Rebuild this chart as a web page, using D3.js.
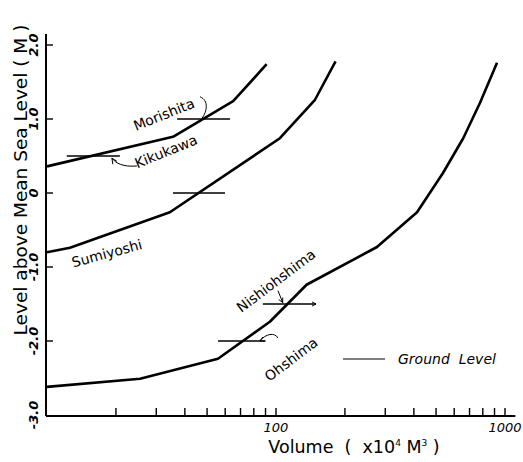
<!DOCTYPE html>
<html><head><meta charset="utf-8">
<script src="https://cdn.jsdelivr.net/npm/d3@7"></script>
<style>body{margin:0;background:#fff}svg{display:block}text{font-family:"DejaVu Sans",sans-serif;fill:#000;white-space:pre}</style>
</head><body><svg id="c" width="523" height="462"></svg>
<script>
// Data
const upperVol = [10, 35.5, 65, 91];             // Morishita / Kikukawa
const upperLevel = [0.36, 0.76, 1.24, 1.74];
const sumiVol = [10, 12.6, 34.4, 104, 148, 182];
const sumiLevel = [-0.80, -0.74, -0.26, 0.74, 1.26, 1.78];
const lowerVol = [10, 25.5, 55.8, 94, 136, 276, 413, 536, 657, 778, 923]; // Nishiohshima / Ohshima
const lowerLevel = [-2.62, -2.51, -2.24, -1.74, -1.24, -0.73, -0.26, 0.27, 0.74, 1.22, 1.76];
const groundNames = ["Morishita", "Kikukawa", "Sumiyoshi", "Nishiohshima", "Ohshima"];
const groundLevel = [1.0, 0.5, 0.0, -1.5, -2.0];
const groundFrom = [37, 12.2, 35.5, 87.6, 55.8];
const groundTo = [63, 20.8, 59.9, 149.6, 90];
const yTicks = [2, 1, 0, -1, -2, -3];
const yTickLabels = ["2.0", "1.0", "0", "-1.0", "-2.0", "-3.0"];
const xMinor = [20,30,40,50,60,70,80,90,100,200,300,400,500,600,700,800,900,1000];
const xLabelVals = [100, 1000];
const xLabels = ["100", "1000"];

const svg = d3.select("#c");
const x = d3.scaleLog().domain([10, 1000]).range([47, 505]);
const y = d3.scaleLinear().domain([-3, 2]).range([415, 45]);

// axes
svg.append("line").attr("x1", 46).attr("x2", 46).attr("y1", 34).attr("y2", 416).attr("stroke","#000").attr("stroke-width",2);
svg.append("line").attr("x1", 46).attr("x2", x(1110)).attr("y1", 416).attr("y2", 416).attr("stroke","#000").attr("stroke-width",2);
svg.selectAll(".yt").data(yTicks.slice(0,5)).join("line")
  .attr("x1",46).attr("x2",53).attr("y1",d=>y(d)).attr("y2",d=>y(d)).attr("stroke","#000").attr("stroke-width",1.4);
svg.selectAll(".xt").data(xMinor).join("line")
  .attr("x1",d=>x(d)).attr("x2",d=>x(d)).attr("y1",408).attr("y2",416).attr("stroke","#000").attr("stroke-width",1.4);

yTicks.forEach((t,i)=>{
  svg.append("text").attr("transform",`translate(38,${y(t)}) rotate(-90)`)
    .attr("text-anchor","middle").attr("font-size",13).attr("font-style","italic").attr("font-weight","bold")
    .text(yTickLabels[i]);
});
xLabelVals.forEach((v,i)=>{
  svg.append("text").attr("x",x(v)).attr("y",432).attr("text-anchor","middle")
    .attr("font-size",13).attr("font-style","italic").text(xLabels[i]);
});

svg.append("text").attr("transform","translate(27,180) rotate(-90)").attr("text-anchor","middle")
  .attr("font-size",18.5).text("Level above Mean Sea Level ( M )");
const xl = svg.append("text").attr("x",354).attr("y",453).attr("text-anchor","middle").attr("font-size",17.5);
xl.append("tspan").text("Volume  (  x10");
xl.append("tspan").attr("font-size",9).attr("dy",-7).text("4");
xl.append("tspan").attr("dy",7).text(" M");
xl.append("tspan").attr("font-size",9).attr("dy",-7).text("3");
xl.append("tspan").attr("dy",7).text(" )");

// curves
const line = d3.line().x(d=>x(d[0])).y(d=>y(d[1]));
[[upperVol,upperLevel],[sumiVol,sumiLevel],[lowerVol,lowerLevel]].forEach(([v,l])=>{
  svg.append("path").attr("d", line(d3.zip(v,l))).attr("fill","none").attr("stroke","#000")
    .attr("stroke-width",2.6).attr("stroke-linejoin","round");
});

// ground level markers
groundNames.forEach((n,i)=>{
  svg.append("line").attr("x1",x(groundFrom[i])).attr("x2",x(groundTo[i]))
    .attr("y1",y(groundLevel[i])).attr("y2",y(groundLevel[i])).attr("stroke","#000").attr("stroke-width",1.3);
});

// labels (anchors in data space)
function label(txt, vol, lev, rot, size){
  svg.append("text").attr("transform",`translate(${x(vol)},${y(lev)}) rotate(${rot})`)
    .attr("text-anchor","middle").attr("font-size",size||14).text(txt);
}
label("Morishita", 33, 1.0, -22);
label("Kikukawa", 33.7, 0.5, -22);
label("Sumiyoshi", 18.5, -0.88, -15);
label("Nishiohshima", 103, -1.24, -37);
label("Ohshima", 120, -2.3, -37);

// arrows
function arrow(pathD){
  svg.append("path").attr("d",pathD).attr("fill","none").attr("stroke","#000").attr("stroke-width",1);
}
// Morishita pointer
arrow(`M${x(46.6)},${y(1.30)} C${x(51)},${y(1.25)} ${x(50)},${y(1.1)} ${x(47.5)},${y(1.01)}`);
// Kikukawa pointer
arrow(`M${x(24.7)},${y(0.365)} C${x(21.5)},${y(0.35)} ${x(20)},${y(0.4)} ${x(19.2)},${y(0.47)}`);
arrow(`M${x(19.2)},${y(0.47)} l1,6 M${x(19.2)},${y(0.47)} l5,3`);
// Nishiohshima pointer
arrow(`M${x(102)},${y(-1.32)} L${x(107)},${y(-1.48)}`);
arrow(`M${x(107)},${y(-1.48)} l-4,-3 M${x(107)},${y(-1.48)} l0,-5`);
arrow(`M${x(149.6)},${y(-1.5)} l-4,-2 M${x(149.6)},${y(-1.5)} l-4,2`);
// Ohshima pointer
arrow(`M${x(102)},${y(-1.96)} C${x(99)},${y(-1.88)} ${x(90)},${y(-1.9)} ${x(85)},${y(-2.0)}`);
arrow(`M${x(85)},${y(-2.0)} l3,-4 M${x(85)},${y(-2.0)} l5,0`);

// legend
svg.append("line").attr("x1",343).attr("x2",385).attr("y1",359).attr("y2",359).attr("stroke","#000").attr("stroke-width",1.2);
svg.append("text").attr("x",398).attr("y",364).attr("font-size",14).attr("font-style","italic").text("Ground  Level");
</script></body></html>
